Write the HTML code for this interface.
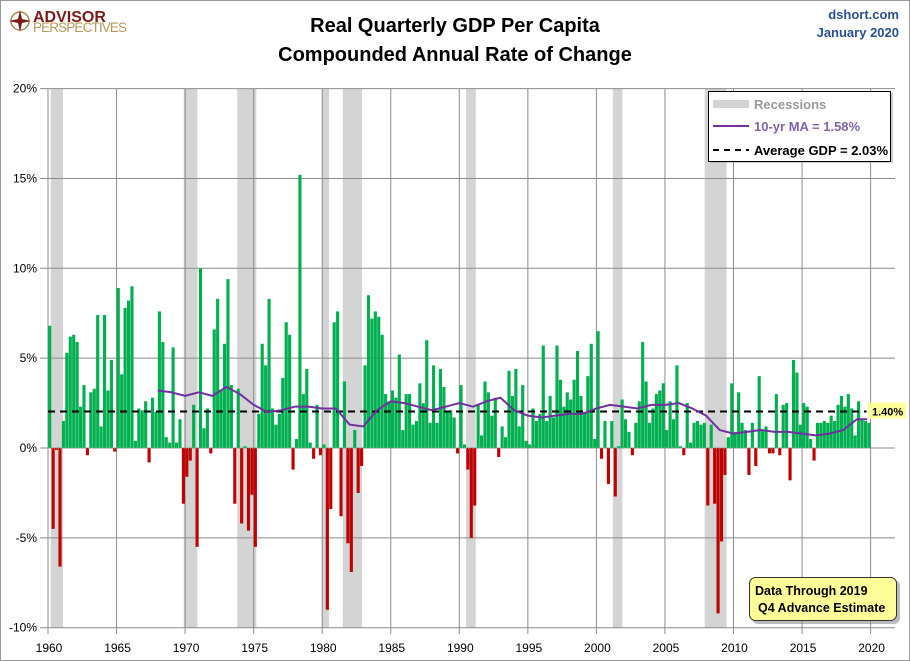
<!DOCTYPE html>
<html><head><meta charset="utf-8"><style>
body{margin:0;background:#fff;}
svg{display:block;font-family:"Liberation Sans",sans-serif;}
</style></head><body>
<svg id="chart" width="910" height="661" viewBox="0 0 910 661" xmlns="http://www.w3.org/2000/svg">
<rect x="0.5" y="0.5" width="909" height="660" fill="#fff" stroke="#999"/>
<g>
 <circle cx="20" cy="21" r="9" fill="none" stroke="#a8895a" stroke-width="1.5"/>
 <polygon points="20,10 22,19 31,21 22,23 20,32 18,23 9,21 18,19" fill="#7a1b1b"/>
 <text x="33" y="22" font-size="16" font-weight="bold" fill="#7a1b1b">ADVISOR</text>
 <text x="33" y="32" font-size="13.5" fill="#b8985a" textLength="94">PERSPECTIVES</text>
</g>
<text x="455" y="32" text-anchor="middle" font-size="20" font-weight="bold" fill="#000">Real Quarterly GDP Per Capita</text>
<text x="455" y="61" text-anchor="middle" font-size="20" font-weight="bold" fill="#000">Compounded Annual Rate of Change</text>
<text x="899" y="19" text-anchor="end" font-size="13" font-weight="bold" fill="#2b4f8c">dshort.com</text>
<text x="899" y="37" text-anchor="end" font-size="13" font-weight="bold" fill="#2b4f8c">January 2020</text>
<g id="plot"></g>
</svg>
<script>
const yearsStart = 1960;
const gdpValues = [
6.8,-4.5,-0.1,-6.6, 1.5,5.3,6.2,6.3, 5.9,2.3,3.5,-0.4, 3.1,3.3,7.4,1.2, 7.4,3.2,4.9,-0.2,
8.9,4.1,7.8,8.2, 9.0,0.4,2.2,2.1, 2.6,-0.8,2.8,2.0, 7.6,5.9,0.6,0.3, 5.6,0.3,1.6,-3.1,
-1.6,-0.7,2.4,-5.5, 10.0,1.1,2.2,-0.3, 6.6,8.3,3.2,5.8, 9.4,3.5,-3.1,3.3, -4.2,0.1,-4.6,-2.6,
-5.5,1.9,5.8,4.6, 8.3,2.2,1.3,1.9, 3.9,7.0,6.3,-1.2, 0.5,15.2,3.0,4.4, 0.3,-0.6,2.4,-0.4,
0.2,-9.0,-3.4,7.0, 7.6,-3.8,3.7,-5.3, -6.9,1.0,-2.5,-1.0, 4.6,8.5,7.2,7.6, 7.3,6.3,3.0,2.6,
3.2,2.8,5.2,1.0, 3.0,3.0,1.3,1.5, 3.6,2.5,6.0,1.4, 4.6,1.4,4.4,3.4, 2.0,2.1,1.7,-0.3,
3.5,0.2,-1.2,-5.0, -3.2,2.4,0.7,3.7, 3.1,1.8,2.8,-0.5, 1.2,0.6,4.3,2.9, 4.4,1.2,3.5,0.4,
0.2,2.2,1.5,1.9, 5.7,1.5,2.9,1.7, 5.7,3.8,2.3,3.1, 2.7,3.8,5.4,2.9, 2.0,4.0,5.8,0.5,
6.5,-0.6,1.5,-2.0, 1.5,-2.7,0.1,2.7, 1.6,0.9,-0.4,1.4, 2.6,5.9,3.7,1.4, 2.2,3.0,3.2,3.6,
1.0,2.6,1.6,4.6, 0.1,-0.4,2.5,0.3, 1.4,1.5,1.3,1.4, -3.2,1.3,-3.1,-9.2, -5.2,-1.5,0.6,3.6,
0.9,3.1,1.4,1.0, -1.5,1.4,-1.0,4.0, 1.0,1.2,-0.3,-0.3, 3.0,-0.4,2.4,2.5, -1.8,4.9,4.2,1.3,
2.5,2.3,0.5,-0.7, 1.4,1.4,1.5,1.4, 1.8,1.5,2.4,2.9, 2.3,3.0,2.2,0.7, 2.6,1.6,1.5,1.4
];
const maYears = [1968,1969,1970,1971,1972,1973,1974,1975,1976,1977,1978,1979,1980,1981,1982,1983,1984,1985,1986,1987,1988,1989,1990,1991,1992,1993,1994,1995,1996,1997,1998,1999,2000,2001,2002,2003,2004,2005,2006,2007,2008,2009,2010,2011,2012,2013,2014,2015,2016,2017,2018,2019,2019.75];
const maValues = [3.2,3.1,2.9,3.1,2.9,3.4,3.0,2.4,2.0,2.1,2.3,2.3,2.2,2.2,1.3,1.2,2.1,2.6,2.5,2.3,2.1,2.3,2.5,2.3,2.6,2.8,2.1,1.8,1.7,1.8,1.9,1.9,2.2,2.4,2.3,2.2,2.4,2.4,2.5,2.2,1.8,1.0,0.8,0.9,1.0,0.9,0.9,0.8,0.7,0.8,1.0,1.6,1.6];
const recessionStarts = [1960.2,1969.9,1973.8,1980.0,1981.5,1990.5,2001.2,2007.9];
const recessionEnds = [1961.1,1970.9,1975.2,1980.5,1982.9,1991.2,2001.9,2009.5];
const yTicks = [20,15,10,5,0,-5,-10];
const xTicks = [1960,1965,1970,1975,1980,1985,1990,1995,2000,2005,2010,2015,2020];
const averageGdp = 2.03;
const latestLabel = "1.40%";

const NS="http://www.w3.org/2000/svg";
const plot=document.getElementById('plot');
const X0=48, X1=895, YT=89, YB=628;
function xs(yr){return 48+(yr-1960)*13.71;}
function ys(v){return 448 - v*17.97;}
function mk(tag,attrs,parent){const e=document.createElementNS(NS,tag);for(const k in attrs)e.setAttribute(k,attrs[k]);(parent||plot).appendChild(e);return e;}

recessionStarts.forEach((s,i)=>{
  const r=mk('rect',{x:xs(s),y:YT,width:xs(recessionEnds[i])-xs(s),height:YB-YT,fill:'#d4d4d4'});
  
  
});
yTicks.forEach(t=>{
  const l=mk('line',{x1:40,x2:X1,y1:ys(t),y2:ys(t),stroke:'#8c8c8c','stroke-width':1});
  
  
  const tx=mk('text',{x:37,y:ys(t)+4,'text-anchor':'end','font-size':12,fill:'#000'});
  tx.textContent=t+'%';
  
  
});
xTicks.forEach(t=>{
  const l=mk('line',{x1:xs(t),x2:xs(t),y1:YT,y2:YB+6,stroke:'#8c8c8c','stroke-width':1});
  
  
  const tx=mk('text',{x:xs(t)+1,y:652,'text-anchor':'middle','font-size':12,fill:'#000'});
  tx.textContent=t;
  
  
});
const qw=13.71/4;
gdpValues.forEach((v,i)=>{
  const x=xs(yearsStart+i/4)+0.15;
  const y0=ys(0), y1=ys(v);
  const b=mk('rect',{x:x,y:Math.min(y0,y1),width:qw-0.3,height:Math.max(Math.abs(y1-y0),0.5),fill:v>=0?'#00b050':'#c00000'});
  
  
});
const zl=mk('line',{x1:X0,x2:xs(2020),y1:ys(0),y2:ys(0),stroke:'#8faa8f','stroke-width':1,'stroke-dasharray':'1,1'});


const al=mk('line',{x1:X0,x2:xs(2020)-4,y1:ys(averageGdp),y2:ys(averageGdp),stroke:'#000','stroke-width':2,'stroke-dasharray':'7,5'});


const pts=maYears.map((y,i)=>xs(y)+','+ys(maValues[i])).join(' ');
const ml=mk('polyline',{points:pts,fill:'none',stroke:'#7030a0','stroke-width':2,'stroke-linejoin':'round'});


const lastY=ys(averageGdp);
const lb=mk('rect',{x:868,y:lastY-9,width:38,height:16,fill:'#ffff99'});


const lt=mk('text',{x:872,y:lastY+4,'font-size':11,'font-weight':'bold',fill:'#000'});
lt.textContent=latestLabel;


</script>
<svg style="position:absolute;left:0;top:0" width="910" height="661">
<g font-family="Liberation Sans, sans-serif">
 <rect x="711" y="93" width="182" height="70" fill="#999" opacity="0.5"/>
 <rect x="708.5" y="91.5" width="182" height="70" fill="#fff" stroke="#000"/>
 <rect x="713" y="100" width="36" height="8" fill="#d4d4d4"/>
 <text x="754" y="109" font-size="13" font-weight="bold" fill="#999">Recessions</text>
 <line x1="713" x2="749" y1="126" y2="126" stroke="#7030a0" stroke-width="2"/>
 <text x="754" y="131" font-size="13" font-weight="bold" fill="#8064a2">10-yr MA = 1.58%</text>
 <line x1="713" x2="749" y1="150" y2="150" stroke="#000" stroke-width="2" stroke-dasharray="6,5"/>
 <text x="754" y="155" font-size="13" font-weight="bold" fill="#000">Average GDP = 2.03%</text>
</g>
<g font-family="Liberation Sans, sans-serif">
 <rect x="752" y="580" width="148" height="44" rx="6" fill="#777" opacity="0.5"/>
 <rect x="749.5" y="577.5" width="147" height="43" rx="6" fill="#ffff99" stroke="#333"/>
 <text x="755" y="595" font-size="12.5" font-weight="bold" fill="#000">Data Through 2019</text>
 <text x="758" y="612" font-size="12.5" font-weight="bold" fill="#000">Q4 Advance Estimate</text>
</g>
</svg>
</body></html>
